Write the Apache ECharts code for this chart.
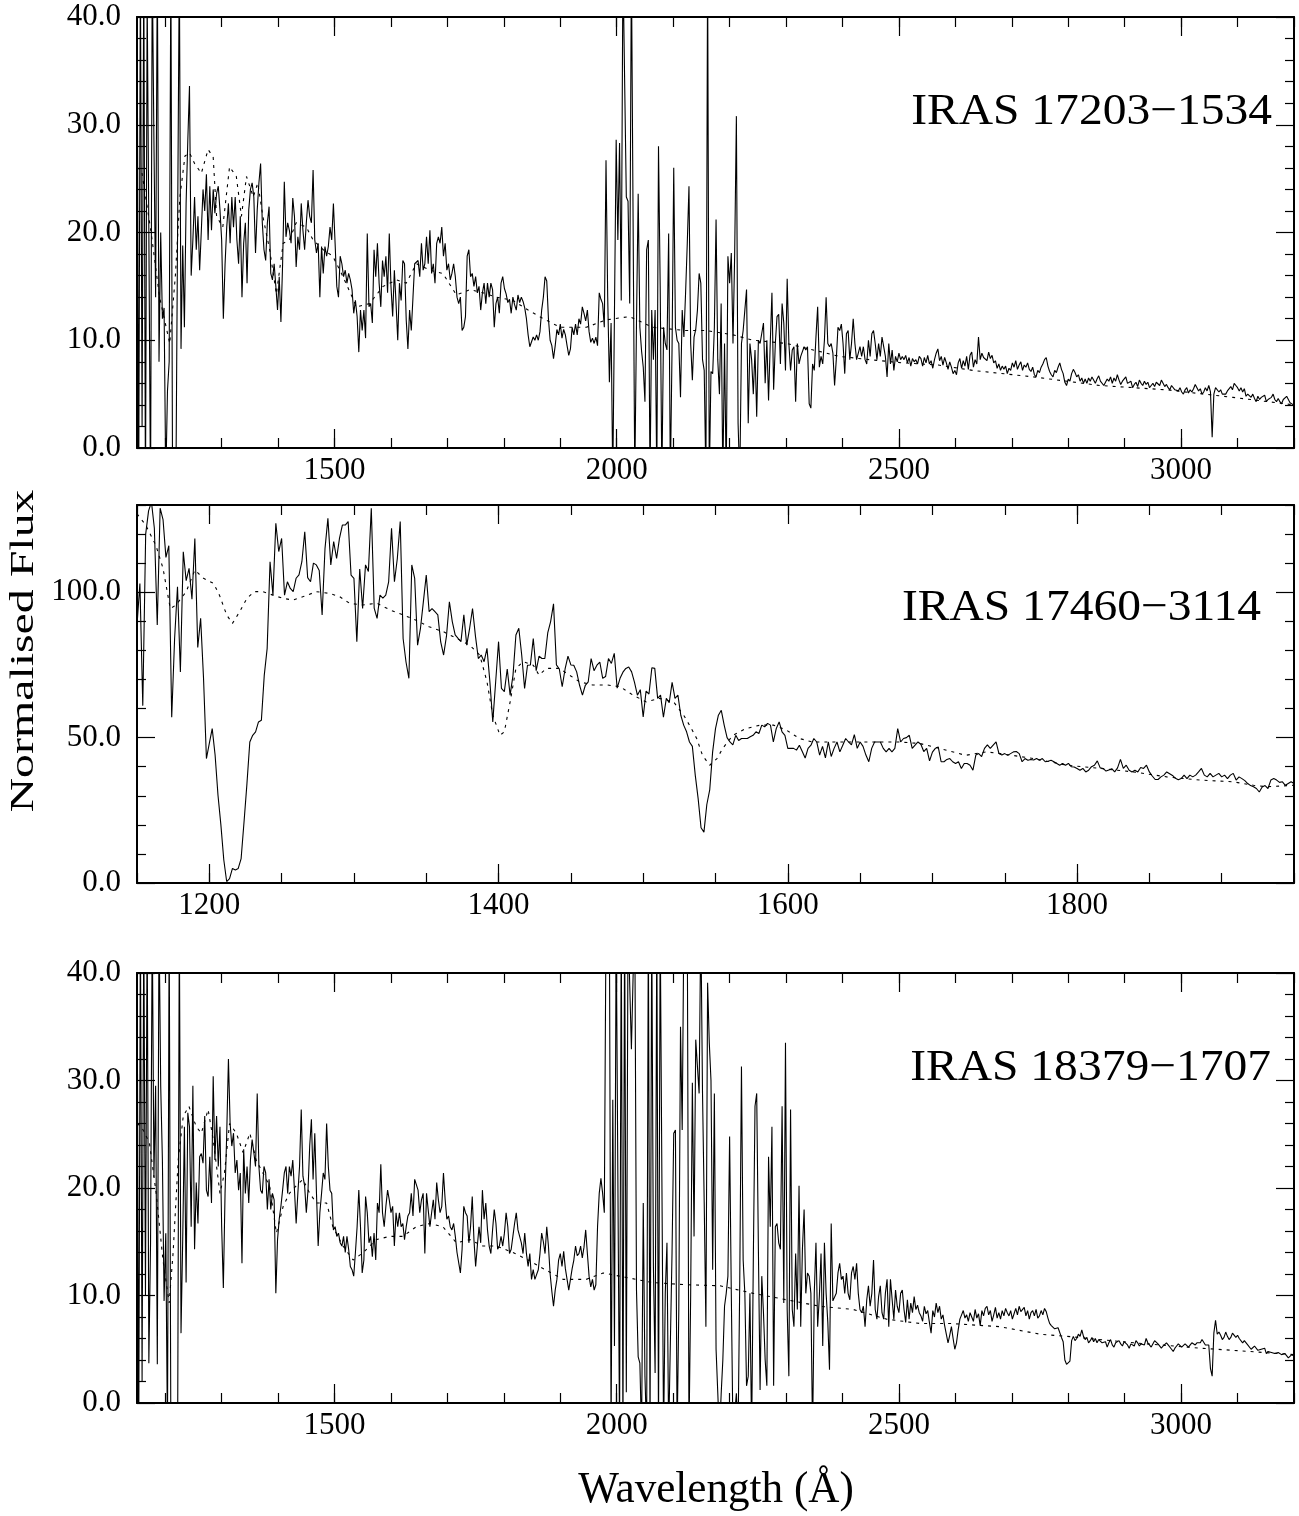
<!DOCTYPE html>
<html><head><meta charset="utf-8">
<script src="https://cdn.jsdelivr.net/npm/echarts@6/dist/echarts.min.js"></script>
<style>html,body{margin:0;padding:0;background:#fff}#c{width:1299px;height:1516px}</style>
</head><body><div id="c"></div>
<script>
// ---------- Panel 1 : IRAS 17203-1534 (wavelength grid 1150 + 3*i Å) ----------
const P1_NAME = 'IRAS 17203−1534';
const P1_START = 1150, P1_STEP = 3;
const P1_FLUX = [
45,-5,45,2,45,-5,42,20,-5,45,
28.5,14,45,8,20,12,13,-3,5.3,8,
45,-3,-3,-3,-3,45,9.2,18.8,11.2,22.7,
28.5,33.6,16,19.3,23.3,18.4,21.5,16.5,20.2,24,
22,25.4,19.3,24.3,20.2,24,21.8,23.6,24.3,22.1,
19.3,12,17,20.5,22.7,19,23.3,20.5,23.3,19.3,
17.1,21.5,14,19,20.9,15.3,22.1,24,24.6,23.3,
18.1,22.1,24.6,26.4,20.9,18.4,17.4,20.9,22.4,16.2,
15.6,17.1,15,12.8,15.9,11.7,17.1,24.7,19.6,20.9,
20.2,19,23.2,21.5,16.8,19.6,18.4,22.7,20.2,18.4,
20.9,23,21.5,20.9,25.8,19.3,18.1,19,14,18.7,
16.2,18.7,17.8,18.7,20.5,19.3,22.7,19,15,14,
17.8,17.1,15.9,16.5,15.3,16.2,15.6,14.7,12.5,13.7,
12.2,8.9,12.8,10.9,12.8,10.2,19.9,13.1,13.4,11.6,
18.4,15.9,19,15.3,13.1,17.4,15.9,17.8,14.4,19.9,
15,12.2,16.5,13.4,10,15.3,13.7,17.4,17.1,11.9,
9.2,12.8,10.9,14,17.1,17.1,17.4,15.9,19,16.5,
17.1,19.6,17.1,20.2,16.2,17.1,15.3,19,19.6,19,
20.5,17.8,19,16.5,17.1,15.6,16.2,17.1,15.9,14,
13.4,14,10.9,11.2,12.2,17.8,18.4,15.9,16.2,15,
15.9,14.4,15,12.8,14.4,15.3,13.4,15.3,14,15.3,
14.7,11.2,13.4,14,12.5,15.3,15.9,14.8,14.3,13.5,
13.8,12.5,14,13.3,12.8,14.2,13.5,14,13.6,13,
12,10.5,9.4,
9.5,10.3,10,10.5,10,10.8,12.8,14,15.9,15.5,
12,10,9.5,8.3,9.5,11,10.5,11.5,10.2,11,
10.5,9.5,8.6,9.2,11.2,10.5,11.5,10.5,12,11.5,
13.1,12.5,11.8,12.8,10.8,9.8,10.2,9.7,10.3,9.5,
14.4,13.8,13.4,11.2,26.7,14,6.1,11.6,-3,-3,
28.6,19.3,28.3,13.7,45,45,23.3,22.9,13.4,45,
45,-3,11.6,23.6,11.2,9,7.5,4.3,18.4,19.3,
-3,12.8,8.2,12.8,-3,28,15,-3,11.2,9.7,
9.1,19.9,-3,9.1,26,11.2,10,9.7,4.7,12.8,
10.3,14.4,19,24.3,9.7,6.3,10.3,11,12.8,16.2,
15.3,8.2,7.2,-3,45,-3,7.1,6.9,11.2,21.2,
8.2,5,13.4,-3,9.7,-3,17.8,15.3,18.1,9.7,
18.1,30.8,2.3,-3,9.7,10.9,12.8,14.7,2.3,9.7,
8.2,5,9.1,2.9,10,9.7,9.7,11.6,6,10,
4.4,9.7,14.4,5.4,9.7,12.2,12.4,7.8,13.4,11.6,
7.2,15.7,9.7,7.2,9.1,9.4,4.3,9.7,7.8,8.5,
8.5,9.4,9.1,9.4,4.1,3.7,7.8,7.2,10.3,13.1,
7.5,8.5,7.8,10,14,9.7,9.4,9.7,8.8,5.8,
8.2,11.2,10.9,11.5,9.7,6.9,10.6,10.9,8.2,9.7,
12,9.7,8.2,8.8,9.4,8.5,9.4,8.2,7.8,10,
8.5,10.6,10.9,9.7,8.2,9.7,8.5,10.3,9.4,8.5,
6.6,9.7,7.8,9.1,7.2,8.5,8,8.8,8.2,8.5,
8.2,8.6,7.9,8.4,7.6,8.3,8,8.2,7.8,8.5,
8.3,7.6,8.4,7.9,8.6,7.8,8.1,7.4,8.2,8.8,
9.2,8.1,8.5,7.7,8.4,7.9,7.3,8,7.5,6.9,
7.2,6.8,7.9,8.3,7.4,8.1,7.6,8.5,7.3,8.6,
8.9,7.5,8.2,7.8,10.3,8.2,8.8,8.4,8.5,8.1,
8.9,8.3,8.6,7.9,8.1,7.4,7.8,7.2,7.6,7.3,
7.6,6.9,7.4,7.2,7.9,7.5,8.1,7.3,7.7,8,
7.2,7.7,7.5,7.9,7.3,7.1,7.5,6.8,6.6,7.2,
7,7.5,7.8,8.2,8.4,7.6,7.1,6.8,6.6,7.2,
7,7.5,7.9,7.3,6.9,6.1,5.8,6.4,6.2,6.9,
7.3,7,6.6,6.8,6.2,6.5,6,6.4,6,6.5,
6.2,6.6,6.3,6,6.4,6.7,6.2,6.3,5.8,6.1,
6.4,6.2,6.6,6,6.5,6.2,6.8,6.3,5.9,6.2,
6.1,6.6,6,5.9,6.2,5.6,5.9,6.1,5.7,6.3,
6,5.8,6.2,5.9,6.1,5.6,5.8,6,5.7,6.1,
6,5.8,6.3,6,5.7,5.9,5.6,5.4,5.8,5.7,
5.4,5.5,5.3,5.6,5.2,5,5.4,5.6,5.1,5.4,
5.2,5.5,5.9,5.6,5.3,5.5,5,5.2,5.6,5.3,
5.8,5.2,1,5,5.6,5.7,5.2,5.4,5,4.9,
5,5.3,5.4,5.7,5.4,6,5.8,5.6,5.3,5.6,
5.2,5.5,4.8,5,5.1,4.7,5,4.6,4.3,4.8,
4.5,4.7,4.6,4.9,4.3,4.5,4.4,4.7,5,4.5,
4.3,4.6,4.3,4.1,4.5,4.4,4.8,4.5,4.2,4.3,4
];
const P1_MODEL_WAVE = [1150,1158,1175,1190,1208,1218,1226,1235,1243,1252,1264,1276,1285,1291,1302,1314,1326,1335,1344,1356,1364,1373,1385,1397,1409,1420,1432,1450,1462,1480,1497,1515,1539,1562,1586,1610,1627,1645,1669,1692,1716,1740,1763,1787,1816,1843,1870,1900,1946,1982,2023,2064,2123,2159,2206,2242,2301,2348,2395,2448,2507,2570,2631,2738,2856,2974,3092,3200];
const P1_MODEL_FLUX = [26,25.8,20,14,9.7,16,23.3,27.1,27.4,26.4,25.5,27.7,27,21.5,20.5,26.1,25.2,21.5,25.2,23.3,24.6,21.5,18.4,14.3,19,19.3,20.9,20.5,19.3,18.4,17.8,15.9,13.1,13.4,15,15.6,15.3,17.1,16.5,16.2,14.2,14.7,14.4,14,13.7,12.8,12,11.2,11.2,11.9,12.2,11.2,10.9,10.9,10.5,10,9.7,9.1,8.5,8.2,7.9,7.7,7.2,6.6,5.8,5.4,4.7,4.0];

// ---------- Panel 2 : IRAS 17460-3114 (wavelength grid 1150 + 2*i Å) ----------
const P2_NAME = 'IRAS 17460−3114';
const P2_START = 1150, P2_STEP = 2;
const P2_FLUX = [
88.7,103,61,120,128,131,122,88.7,128.9,125,
112,116,57,84,101.9,72.6,113.9,104,108.2,97.6,
118.5,81,91,70.4,42.8,48,53.1,44,30.2,20,
8,0.5,1.5,5,4.5,5,8.4,21,34,48.5,
50.8,52,55.4,56,71.5,80.7,110.5,99,123.7,114,
118.5,99,103.6,101.3,100.2,104.8,106,110.5,120.8,105,
103.6,110,109.4,107.5,92.2,115.1,125.4,109.4,117.4,111.6,
118.5,123.1,123.1,124.3,105.9,104.8,83,108,94.4,109.4,
107.1,128.9,94.5,91,99,98,99,103.6,122,103.6,
111.6,124.3,84.1,76,70.4,109.4,104.8,81.8,87.6,96.7,
105.9,93.3,94.4,93.3,92.2,82.9,78.4,85,96.7,89.9,
85.3,84.1,83,92.2,81.8,87.6,94.4,85,77.2,78.4,
76.1,80.7,69.2,55.4,69.2,83,66.9,65.8,73.6,64.6,
71.5,85.3,87.6,78.4,66.9,74.9,
75,84.1,73,78,77.2,77.2,86,89.9,96,75,
73.6,67.5,73.6,78,75,74.9,72.6,68,64.6,68,
69.2,77.2,73,74.9,76,70.4,71,77.2,75.5,79,
67,70.4,72.5,73.8,74.3,72.6,69,64.6,66.5,57.1,
66,65,74,73.8,63.5,64.6,57,63.5,62,69,
63.5,64.6,57.7,54.3,52,48.5,47,37.1,29,19,
17.5,27,32,45,53.1,57.7,59.4,54.3,50,48.5,
47.5,50.8,49,49.7,49.7,49.7,50.3,50.8,52,51.4,
54.3,53.7,54.9,54.3,48.5,53.1,55.4,52,50.8,46.3,
46.3,46.3,45.7,47.4,45.2,43,46.3,47.4,49.7,48.5,
44,47,43,48.5,43.5,46.3,48.5,45.1,47.4,49.7,
48.5,47.5,51,46.3,48.5,47,44,41.7,46.3,48.5,
48.5,48.5,46.3,45.1,46.3,45.1,46.3,53.1,48.5,49.7,
50,50.8,46.3,47.4,48.5,47.7,45.2,46.3,42,45,
46.3,46.8,41.7,41.7,42.5,42.8,41.7,41.1,41.7,39.4,
41.1,41.1,40.5,38.8,44,44.5,43.5,46.3,47.5,46.3,
47.4,48.5,44.5,44,44.5,43.9,44.5,45.1,45.2,44.5,
41.7,42.8,42.2,42.5,42.3,42.8,42.2,42.8,41.7,41.9,
42.2,41.7,41.1,40.5,41.1,40.5,41.1,40,39.9,39.4,
38.8,39.4,38.2,38.8,40,40.5,42,39.6,39.4,38.5,
38.9,39.3,38.2,39.6,42.5,39.4,40.5,38.8,38.2,38.8,
38.2,39.7,39.4,40.5,38.2,36.8,35.6,35.6,36.5,37.1,
38.2,37.6,37,36,35.5,35.9,37.1,35.9,37.1,36.5,
37.1,38.2,39.4,37.1,36.5,37.7,36.5,37.1,37.7,36.5,
37.1,35.9,37.1,37.7,35.4,36.5,35.9,35.2,34.2,33.5,
33.1,32.5,31.3,33,33.5,32.5,35.4,35.9,35.4,34.6,
34.8,33.6,34.2,34.8,34.2
];
const P2_MODEL_WAVE = [1150,1156,1163,1168,1173,1177,1184,1190,1196,1203,1207,1212,1216,1221,1226,1231,1237,1244,1251,1258,1265,1274,1283,1290,1297,1306,1316,1325,1334,1343,1352,1362,1371,1380,1387,1392,1396,1401,1404,1408,1412,1417,1424,1428,1433,1442,1449,1456,1465,1475,1484,1493,1502,1511,1521,1528,1532,1537,1541,1546,1551,1555,1562,1571,1581,1590,1599,1608,1617,1631,1645,1659,1677,1691,1705,1723,1737,1747,1770,1793,1816,1839,1862,1885,1908,1922,1931,1950];
const P2_MODEL_FLUX = [127,123.1,116.2,108.2,94.4,95.6,100.2,107.6,104.8,103,99,92.2,89.3,93.3,97.9,100.2,100.2,99,97.9,97.3,98.5,100.2,99.6,98.5,96.2,95.6,96.2,93.9,92.2,90.4,88.1,86.4,84.1,81.8,78.4,69.2,57.7,50.8,52,62.3,73.8,76.1,74.9,71.5,73.8,73.8,71.5,69.2,68.1,68.1,67.5,64.6,62.3,63.5,62.3,57.7,54.3,49.7,43.9,40.5,42.8,46.3,50.8,53.1,54.3,54.3,52.6,49.7,48.5,48.5,48.5,48.5,48.5,48,46.3,43.9,45.1,44.5,42.8,40.5,39.4,38.2,36.5,35.4,34.8,33.6,33.1,33.6];

// ---------- Panel 3 : IRAS 18379-1707 (wavelength grid 1150 + 3*i Å) ----------
const P3_NAME = 'IRAS 18379−1707';
const P3_START = 1150, P3_STEP = 3;
const P3_FLUX = [
45,-5,45,2,45,10,45,3.7,14.9,45,
21,29.5,3.6,45,29.5,22.6,9.5,15.8,-3,45,
-3,-3,-3,-3,-3,45,6.5,15.2,25.7,11.2,
27,25.7,16.4,29.5,14.3,20.5,16.7,22.9,23.2,22.3,
26.7,19.8,19.2,22.9,18.6,30.4,22.6,26.7,22,25.7,
16.4,10.7,19.5,25.1,32,26,23.9,25.1,21.4,22.6,
19.8,21.4,13,23.6,19.5,22,18.6,22.6,24.5,23.3,
22,28.8,22,19.8,19.5,22,21.4,18,20.8,18,
19.5,18.9,10.2,15.2,17.1,18.3,19.8,21.4,22,19.5,
22,21.1,22.6,19.8,16.7,19.5,22,27.3,21.1,20.2,
17.7,19.8,23.9,26.4,20.8,25.1,19.5,14.6,17.7,19.5,
21.4,20.8,26,22,19.8,19.5,16.1,16.4,15.5,15.8,
14.9,14.6,15.5,14,15.5,14.3,12.7,12.4,11.8,14,
16.4,19.8,16.4,12.1,13.3,19.2,17.7,14.9,15.5,13.6,
15.8,13.3,18.6,17.7,22.2,17.7,16.4,18.3,19.8,18.9,
17.7,18.3,14.6,17.7,16.4,17.7,16.4,16.7,15.2,16.4,
17.4,17.7,19.5,17.4,20.8,20.8,19.8,17.7,18.9,19.5,
13.9,19.5,19.5,16.4,17.7,18.9,17.1,20.5,18.9,17.7,
18.3,21.4,18.9,17.1,17.4,16.4,16.1,16.7,15.5,14,
13.9,12.1,14.3,18.3,17.7,17.4,14.9,16.4,19.2,15.2,
12.7,14.6,16.4,14.9,19.8,17.1,18.6,16.1,14.6,13.9,
16.1,18,16.7,14.3,14.6,15.5,14.6,15.8,17.7,16.4,
13.9,14.3,15.5,16.7,17.7,16.1,15.5,14.9,13.9,15.8,
13.9,12.7,13.9,
11.5,12.4,11.5,11.5,12.4,13.9,15.8,15,13.9,16.4,
14.6,12,10.4,9,10.5,11.5,13.3,13.9,12.7,14.1,
12.5,11.5,10.5,11.5,12.5,13.3,14.6,13.7,13.9,14.6,
13.5,14.5,16.1,13.9,11.8,10.8,11.5,10.5,11,16.4,
19.5,20.9,19.5,17.7,45,45,45,-3,28.2,5.3,
45,45,-3,45,-3,45,1,45,45,32.9,
39.7,45,10.5,4.3,3.7,-3,18.6,2.5,-3,45,
-3,45,12.7,2.8,45,-3,45,45,-3,10.2,
14.9,-3,-3,14,25.1,25.4,-3,8.7,35,25.4,
45,45,45,-3,10,29.8,15.5,33.8,33.8,28.8,
45,28.8,18.6,7.1,39.1,33.5,30,12.4,28.8,5,
1,-3,0.8,4,9,10.2,11.8,24.8,10.2,-3,
-1,0.9,-3,11.5,31.3,13.3,10.2,1.6,2.5,10.2,
-3,13.3,27.6,28.8,14.3,1.2,11.8,8.4,4,1.6,
22.9,16.4,25.7,1.6,16.4,16.7,14.9,14.3,27.6,9.3,
33.5,8.7,2.5,27.3,8.7,7.1,13.9,8.7,20.2,7.1,
14.3,18,10.2,12.1,11.8,10.2,-3,10.2,14.9,7.1,
9.9,13.9,5.3,14.9,10.2,7.5,3.1,16.7,9.5,9.6,
10.2,12.1,13,11.5,11.8,10.2,12.1,10.2,9.6,12.1,
12.7,11.5,13,10.2,8.7,8.4,9,7.1,9.6,10.9,
9,10.2,13.3,8.7,7.8,9.9,10.9,8.4,7.8,10.2,
11.5,7.1,11.5,9.6,7.8,10.5,9,8.4,10.2,10.5,
8.7,7.5,9.6,7.8,9.3,8.4,9.9,8.7,9.1,8.4,
8.1,7.6,9,8.3,8.6,7.5,6.5,8.6,8,9.3,
8.4,9,7.8,8.2,7.2,7.1,5.6,6.3,7.1,6,
5,5.6,6.8,7.8,8.2,8.6,7.9,8.2,7.6,8.4,
8,7.6,8.7,7.9,8.3,7.2,8.6,8.1,8.8,9,
8.2,8.6,7.6,8.2,8.9,7.9,8.4,7.8,8.6,8.1,
8.8,8.4,8.1,8.6,7.8,8.3,8.8,8.2,9,8.5,
8.4,8.9,8.1,8.6,7.8,8.4,8.6,8.1,8.7,7.9,
8.1,8.6,8.2,8.8,8.5,7.9,7.4,7.2,7.1,6.9,
6.8,7,6.9,6.1,5.7,4,3.6,3.5,3.9,5.8,
6.2,5.8,6,6.4,6.2,6.8,6.2,5.9,6.1,5.6,
5.8,6.1,5.7,6,5.6,5.9,6,5.6,5.5,5.7,
5.2,5.6,5.9,5.4,5.2,5.6,5.5,5.8,5.5,5.3,
5.7,5.8,5.4,5.1,5.5,5.6,5.3,5.8,5.6,5.3,
5.5,5.6,5.4,6,5.6,5.5,5.2,5.3,5.8,5.9,
5.5,5.4,5.1,5.3,5.4,5.6,5.4,5.3,5,4.8,
5.1,5.3,5.5,5.4,5.2,5.3,5.5,5.6,5.2,5.3,
5.6,5.5,5.4,5.6,5.5,5.6,5.9,6,5.4,5.3,
5.4,3.2,2.5,6.5,7.7,6.4,6.6,6.3,5.9,6.1,
6.6,6.2,5.9,6.1,6.5,6.4,6.1,6.3,6,6.1,
5.6,5.8,5.9,5.4,5.3,5,5.1,5.3,5.3,4.9,
4.8,5,4.9,5.1,4.6,4.8,4.9,4.7,4.8,4.6,
4.5,4.7,4.8,4.5,4.4,4.6,4.5,4.2,4.3,4.5,4.4
];
const P3_MODEL_WAVE = [1150,1158,1172,1184,1196,1207,1214,1223,1232,1242,1255,1264,1276,1285,1297,1305,1314,1326,1338,1350,1361,1373,1385,1397,1409,1420,1432,1444,1456,1468,1486,1497,1515,1533,1551,1574,1598,1621,1645,1669,1692,1716,1740,1763,1787,1816,1843,1863,1905,1946,1976,2005,2064,2123,2183,2242,2301,2360,2419,2478,2537,2590,2679,2750,2798,2916,3034,3092,3200];
const P3_MODEL_FLUX = [26,25.7,24.2,19.5,13.3,9.3,14,22.6,26.7,27.6,25.7,25.1,27.3,24.5,19.5,21.4,26,25.1,23.3,25.1,22.6,21.4,20.2,15.8,18.3,19.5,20.2,20.8,19.5,18.6,18.6,16.4,14.6,13.3,14,15.2,15.5,15.5,16.4,16.7,16.4,14.9,15.2,14.6,14.6,14,13.3,12.7,11.5,11.5,12.1,11.8,11.2,11,10.9,10.2,9.6,9,8.7,7.8,7.4,7.4,7.1,6.4,6.2,5.6,5.1,4.9,4.5];

// ---------- Axis ranges and tick labels ----------
const WIDE_X_RANGE = [1150, 3200];
const WIDE_X_LABELS = [1500, 2000, 2500, 3000];
const WIDE_X_MINOR = [1200,1300,1400,1500,1600,1700,1800,1900,2000,2100,2200,2300,2400,2500,2600,2700,2800,2900,3000,3100,3200];
const NARROW_X_RANGE = [1150, 1950];
const NARROW_X_LABELS = [1200, 1400, 1600, 1800];
const NARROW_X_MINOR = [1150,1200,1250,1300,1350,1400,1450,1500,1550,1600,1650,1700,1750,1800,1850,1900,1950];
const Y40_RANGE = [0, 40];
const Y40_LABELS = [0, 10, 20, 30, 40];
const Y40_MINOR = [2,4,6,8,12,14,16,18,22,24,26,28,32,34,36,38];
const Y130_RANGE = [0, 130];
const Y130_LABELS = [0, 50, 100];
const Y130_MINOR = [10,20,30,40,60,70,80,90,110,120,130];
const X_TITLE = 'Wavelength (Å)';
const Y_TITLE = 'Normalised Flux';

const SERIF = '"Liberation Serif", "DejaVu Serif", serif';
const TICK_STYLE = {color: '#000', width: 1.2};
const FRAME = {show: true, onZero: false, lineStyle: {color: '#000', width: 2}};

function xAxesFor(g, range, labels, minor) {
  const base = {type: 'value', gridIndex: g, min: range[0], max: range[1], splitLine: {show: false}};
  return [
    Object.assign({}, base, {position: 'bottom', axisLine: FRAME,
      axisTick: {show: true, inside: true, length: 19, customValues: labels, lineStyle: TICK_STYLE},
      axisLabel: {show: true, customValues: labels, margin: 7, color: '#000', fontFamily: SERIF, fontSize: 31, formatter: v => String(v)}}),
    Object.assign({}, base, {position: 'bottom', axisLine: {show: false, onZero: false},
      axisTick: {show: true, inside: true, length: 10, customValues: minor, lineStyle: TICK_STYLE}, axisLabel: {show: false}}),
    Object.assign({}, base, {position: 'top', axisLine: FRAME,
      axisTick: {show: true, inside: true, length: 19, customValues: labels, lineStyle: TICK_STYLE}, axisLabel: {show: false}}),
    Object.assign({}, base, {position: 'top', axisLine: {show: false, onZero: false},
      axisTick: {show: true, inside: true, length: 10, customValues: minor, lineStyle: TICK_STYLE}, axisLabel: {show: false}})
  ];
}
function yAxesFor(g, range, labels, minor) {
  const base = {type: 'value', gridIndex: g, min: range[0], max: range[1], splitLine: {show: false}};
  return [
    Object.assign({}, base, {position: 'left', axisLine: FRAME,
      axisTick: {show: true, inside: true, length: 18, customValues: labels, lineStyle: TICK_STYLE},
      axisLabel: {show: true, customValues: labels, margin: 16, color: '#000', fontFamily: SERIF, fontSize: 31, formatter: v => Number(v).toFixed(1)}}),
    Object.assign({}, base, {position: 'left', axisLine: {show: false, onZero: false},
      axisTick: {show: true, inside: true, length: 9, customValues: minor, lineStyle: TICK_STYLE}, axisLabel: {show: false}}),
    Object.assign({}, base, {position: 'right', axisLine: FRAME,
      axisTick: {show: true, inside: true, length: 18, customValues: labels, lineStyle: TICK_STYLE}, axisLabel: {show: false}}),
    Object.assign({}, base, {position: 'right', axisLine: {show: false, onZero: false},
      axisTick: {show: true, inside: true, length: 9, customValues: minor, lineStyle: TICK_STYLE}, axisLabel: {show: false}})
  ];
}
function gridded(start, step, flux) { return flux.map((v, i) => [start + step * i, v]); }
function paired(wave, flux) { return wave.map((w, i) => [w, flux[i]]); }
function spectrum(g, data) {
  return {type: 'line', xAxisIndex: g * 4, yAxisIndex: g * 4, data: data, showSymbol: false, symbol: 'none',
    clip: true, silent: true, lineStyle: {color: '#000', width: 1.1}, z: 3};
}
function model(g, data) {
  return {type: 'line', xAxisIndex: g * 4, yAxisIndex: g * 4, data: data, showSymbol: false, symbol: 'none',
    clip: true, silent: true, lineStyle: {color: '#000', width: 1.1, type: [3, 5]}, z: 2};
}
function label(text, x, y, size, align, scaleX, rotation) {
  return {type: 'text', x: x, y: y, scaleX: scaleX || 1, rotation: rotation || 0, z: 10,
    style: {text: text, fill: '#000', fontSize: size, fontFamily: SERIF, align: align, verticalAlign: 'middle',
      textAlign: align, textVerticalAlign: 'middle'}};
}

const chart = echarts.init(document.getElementById('c'), null, {renderer: 'canvas'});
chart.setOption({
  backgroundColor: '#ffffff',
  animation: false,
  grid: [
    {left: 137, top: 17, width: 1157, height: 431, containLabel: false, outerBoundsMode: 'none'},
    {left: 137, top: 505, width: 1157, height: 378, containLabel: false, outerBoundsMode: 'none'},
    {left: 137, top: 973, width: 1157, height: 430, containLabel: false, outerBoundsMode: 'none'}
  ],
  xAxis: [].concat(
    xAxesFor(0, WIDE_X_RANGE, WIDE_X_LABELS, WIDE_X_MINOR),
    xAxesFor(1, NARROW_X_RANGE, NARROW_X_LABELS, NARROW_X_MINOR),
    xAxesFor(2, WIDE_X_RANGE, WIDE_X_LABELS, WIDE_X_MINOR)),
  yAxis: [].concat(
    yAxesFor(0, Y40_RANGE, Y40_LABELS, Y40_MINOR),
    yAxesFor(1, Y130_RANGE, Y130_LABELS, Y130_MINOR),
    yAxesFor(2, Y40_RANGE, Y40_LABELS, Y40_MINOR)),
  series: [
    model(0, paired(P1_MODEL_WAVE, P1_MODEL_FLUX)),
    spectrum(0, gridded(P1_START, P1_STEP, P1_FLUX)),
    model(1, paired(P2_MODEL_WAVE, P2_MODEL_FLUX)),
    spectrum(1, gridded(P2_START, P2_STEP, P2_FLUX)),
    model(2, paired(P3_MODEL_WAVE, P3_MODEL_FLUX)),
    spectrum(2, gridded(P3_START, P3_STEP, P3_FLUX))
  ],
  graphic: [
    label(P1_NAME, 1272, 112, 44, 'right', 1.08),
    label(P2_NAME, 1261, 608, 44, 'right', 1.08),
    label(P3_NAME, 1271, 1068, 44, 'right', 1.08),
    label(X_TITLE, 716, 1490, 44, 'center', 0.98),
    label(Y_TITLE, 24, 651, 33, 'center', 1.45, Math.PI / 2)
  ]
});
</script>
</body></html>
